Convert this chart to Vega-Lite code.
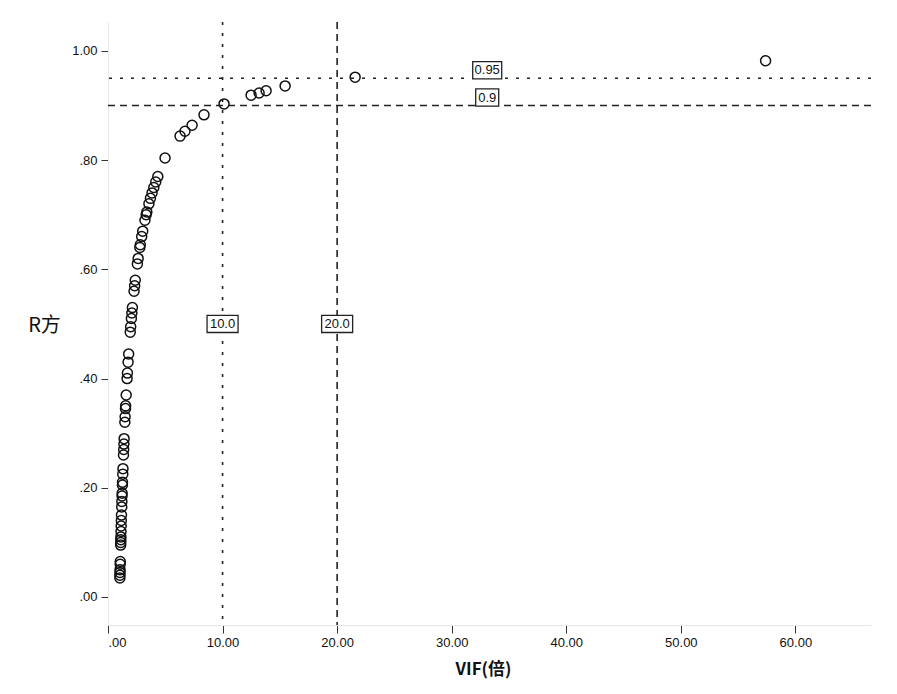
{
  "$schema": "https://vega.github.io/schema/vega-lite/v6.json",
  "width": 763,
  "height": 603,
  "autosize": {"type": "none"},
  "padding": {"left": 108, "top": 22, "right": 26, "bottom": 69},
  "config": {
    "view": {"stroke": null},
    "font": "Liberation Sans"
  },
  "datasets": {
    "pts": [
      {"vif": 1.036, "r2": 0.035}, {"vif": 1.042, "r2": 0.04}, {"vif": 1.047, "r2": 0.045},
      {"vif": 1.053, "r2": 0.05}, {"vif": 1.064, "r2": 0.06}, {"vif": 1.070, "r2": 0.065},
      {"vif": 1.105, "r2": 0.095}, {"vif": 1.111, "r2": 0.10}, {"vif": 1.117, "r2": 0.105},
      {"vif": 1.124, "r2": 0.11}, {"vif": 1.136, "r2": 0.12}, {"vif": 1.149, "r2": 0.13},
      {"vif": 1.163, "r2": 0.14}, {"vif": 1.176, "r2": 0.15}, {"vif": 1.198, "r2": 0.165},
      {"vif": 1.212, "r2": 0.175}, {"vif": 1.227, "r2": 0.185}, {"vif": 1.235, "r2": 0.19},
      {"vif": 1.258, "r2": 0.205}, {"vif": 1.266, "r2": 0.21}, {"vif": 1.290, "r2": 0.225},
      {"vif": 1.307, "r2": 0.235}, {"vif": 1.351, "r2": 0.26}, {"vif": 1.370, "r2": 0.27},
      {"vif": 1.389, "r2": 0.28}, {"vif": 1.408, "r2": 0.29}, {"vif": 1.471, "r2": 0.32},
      {"vif": 1.493, "r2": 0.33}, {"vif": 1.527, "r2": 0.345}, {"vif": 1.538, "r2": 0.35},
      {"vif": 1.587, "r2": 0.37}, {"vif": 1.667, "r2": 0.40}, {"vif": 1.695, "r2": 0.41},
      {"vif": 1.754, "r2": 0.43}, {"vif": 1.802, "r2": 0.445}, {"vif": 1.942, "r2": 0.485},
      {"vif": 1.980, "r2": 0.495}, {"vif": 2.041, "r2": 0.51}, {"vif": 2.083, "r2": 0.52},
      {"vif": 2.128, "r2": 0.53}, {"vif": 2.273, "r2": 0.56}, {"vif": 2.326, "r2": 0.57},
      {"vif": 2.381, "r2": 0.58}, {"vif": 2.564, "r2": 0.61}, {"vif": 2.632, "r2": 0.62},
      {"vif": 2.778, "r2": 0.64}, {"vif": 2.817, "r2": 0.645}, {"vif": 2.941, "r2": 0.66},
      {"vif": 3.030, "r2": 0.67}, {"vif": 3.226, "r2": 0.69}, {"vif": 3.333, "r2": 0.70},
      {"vif": 3.390, "r2": 0.705}, {"vif": 3.571, "r2": 0.72}, {"vif": 3.704, "r2": 0.73},
      {"vif": 3.846, "r2": 0.74}, {"vif": 4.0, "r2": 0.75}, {"vif": 4.167, "r2": 0.76},
      {"vif": 4.348, "r2": 0.77}, {"vif": 4.98, "r2": 0.804}, {"vif": 6.29, "r2": 0.844},
      {"vif": 6.72, "r2": 0.853}, {"vif": 7.34, "r2": 0.864}, {"vif": 8.38, "r2": 0.883},
      {"vif": 10.13, "r2": 0.903}, {"vif": 12.49, "r2": 0.919}, {"vif": 13.19, "r2": 0.923},
      {"vif": 13.8, "r2": 0.927}, {"vif": 15.46, "r2": 0.936}, {"vif": 21.57, "r2": 0.952},
      {"vif": 57.4, "r2": 0.982}
    ],
    "vlines": [
      {"x": 10, "style": "dot", "label": "10.0", "ly": 0.5},
      {"x": 20, "style": "dash", "label": "20.0", "ly": 0.5}
    ],
    "hlines": [
      {"y": 0.95, "style": "dot", "label": "0.95", "lx": 33.1},
      {"y": 0.9, "style": "dash", "label": "0.9", "lx": 33.1}
    ]
  },
  "layer": [
    {
      "data": {"name": "vlines"},
      "transform": [{"filter": "datum.style == 'dot'"}],
      "mark": {"type": "rule", "stroke": "#222222", "strokeWidth": 1.6, "strokeDash": [3, 8]},
      "encoding": {"x": {"field": "x", "type": "quantitative", "scale": {"domain": [0, 66.6], "nice": false, "zero": false}}}
    },
    {
      "data": {"name": "vlines"},
      "transform": [{"filter": "datum.style == 'dash'"}],
      "mark": {"type": "rule", "stroke": "#222222", "strokeWidth": 1.6, "strokeDash": [7, 5]},
      "encoding": {"x": {"field": "x", "type": "quantitative"}}
    },
    {
      "data": {"name": "hlines"},
      "transform": [{"filter": "datum.style == 'dot'"}],
      "mark": {"type": "rule", "stroke": "#222222", "strokeWidth": 1.6, "strokeDash": [3, 8]},
      "encoding": {"y": {"field": "y", "type": "quantitative", "scale": {"domain": [-0.0513, 1.053], "nice": false, "zero": false}}}
    },
    {
      "data": {"name": "hlines"},
      "transform": [{"filter": "datum.style == 'dash'"}],
      "mark": {"type": "rule", "stroke": "#222222", "strokeWidth": 1.6, "strokeDash": [7, 5]},
      "encoding": {"y": {"field": "y", "type": "quantitative"}}
    },
    {
      "data": {"name": "pts"},
      "mark": {"type": "point", "filled": false, "stroke": "#111111", "strokeWidth": 1.5, "size": 100, "opacity": 1},
      "encoding": {
        "x": {
          "field": "vif", "type": "quantitative",
          "axis": {
            "values": [0, 10, 20, 30, 40, 50, 60],
            "labelExpr": "datum.value < 1 ? '.00' : format(datum.value, '.2f')",
            "grid": false,
            "domainColor": "#e6e6e6",
            "tickColor": "#333333",
            "tickSize": 8,
            "labelFontSize": 13,
            "labelColor": "#111111",
            "labelPadding": 3,
            "title": "VIF(倍)",
            "titleFont": "Noto Sans CJK SC",
            "titleFontSize": 17,
            "titleFontWeight": "bold",
            "titleColor": "#111111",
            "titleX": 375,
            "titleY": 36,
            "titleBaseline": "top"
          }
        },
        "y": {
          "field": "r2", "type": "quantitative",
          "axis": {
            "values": [0, 0.2, 0.4, 0.6, 0.8, 1.0],
            "labelExpr": "datum.value < 1 ? slice(format(datum.value, '.2f'), 1) : format(datum.value, '.2f')",
            "grid": false,
            "domainColor": "#e6e6e6",
            "tickColor": "#333333",
            "tickSize": 7,
            "labelFontSize": 13,
            "labelColor": "#111111",
            "labelPadding": 4,
            "title": "R方",
            "titleFont": "Noto Sans CJK SC",
            "titleFontSize": 20,
            "titleFontWeight": "normal",
            "titleColor": "#111111",
            "titleAngle": 0,
            "titleX": -64,
            "titleY": 303,
            "titleAlign": "center",
            "titleBaseline": "middle"
          }
        }
      }
    },
    {
      "data": {"name": "vlines"},
      "mark": {"type": "point", "shape": "M-1,-0.55H1V0.55H-1Z", "size": 961, "filled": true, "fill": "white", "stroke": "#222222", "strokeWidth": 1.3, "opacity": 1},
      "encoding": {
        "x": {"field": "x", "type": "quantitative"},
        "y": {"field": "ly", "type": "quantitative"}
      }
    },
    {
      "data": {"name": "hlines"},
      "transform": [{"filter": "datum.style == 'dot'"}],
      "mark": {"type": "point", "shape": "M-1,-0.6H1V0.6H-1Z", "size": 841, "filled": true, "fill": "white", "stroke": "#222222", "strokeWidth": 1.3, "opacity": 1, "yOffset": -8},
      "encoding": {
        "x": {"field": "lx", "type": "quantitative"},
        "y": {"field": "y", "type": "quantitative"}
      }
    },
    {
      "data": {"name": "hlines"},
      "transform": [{"filter": "datum.style == 'dash'"}],
      "mark": {"type": "point", "shape": "M-1,-0.75H1V0.75H-1Z", "size": 529, "filled": true, "fill": "white", "stroke": "#222222", "strokeWidth": 1.3, "opacity": 1, "yOffset": -8},
      "encoding": {
        "x": {"field": "lx", "type": "quantitative"},
        "y": {"field": "y", "type": "quantitative"}
      }
    },
    {
      "data": {"name": "vlines"},
      "mark": {"type": "text", "fontSize": 13, "color": "#111111", "align": "center", "baseline": "middle"},
      "encoding": {
        "x": {"field": "x", "type": "quantitative"},
        "y": {"field": "ly", "type": "quantitative"},
        "text": {"field": "label"}
      }
    },
    {
      "data": {"name": "hlines"},
      "mark": {"type": "text", "fontSize": 13, "color": "#111111", "align": "center", "baseline": "middle", "yOffset": -8},
      "encoding": {
        "x": {"field": "lx", "type": "quantitative"},
        "y": {"field": "y", "type": "quantitative"},
        "text": {"field": "label"}
      }
    }
  ]
}
